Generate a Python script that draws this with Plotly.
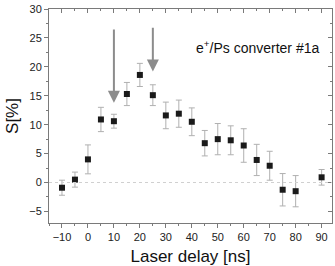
import plotly.graph_objects as go

# Data
delay_ns = [-10, -5, 0, 5, 10, 15, 20, 25, 30, 35, 40, 45, 50, 55, 60, 65, 70, 75, 80, 90]
s_percent = [-0.9, 0.5, 4.0, 10.9, 10.6, 15.3, 18.6, 15.1, 11.6, 11.9, 10.5, 6.8, 7.5, 7.3, 6.4, 3.9, 2.9, -1.25, -1.5, 0.9]
s_err = [1.3, 1.3, 2.5, 2.1, 1.2, 2.0, 2.0, 1.8, 2.3, 2.35, 2.4, 2.2, 2.7, 2.5, 2.9, 2.7, 2.5, 2.8, 2.7, 1.35]

arrow_x = [10, 25]
arrow_tip = [13.8, 19.2]
arrow_tail = [26.7, 27.0]

label_text = "e<sup>+</sup>/Ps converter #1a"
label_pos = (65.3, 23.4)

x_range = [-15, 94]
y_range = [-7, 30]

axis_col = "#7a7a7a"
font_fam = "Liberation Sans, Arial, sans-serif"

fig = go.Figure()
fig.add_trace(go.Scatter(
    x=delay_ns, y=s_percent, mode="markers",
    marker=dict(symbol="square", size=6, color="#1a1a1a"),
    error_y=dict(type="data", array=s_err, visible=True, color="#b0b0b0", thickness=1, width=3),
    showlegend=False,
))
# invisible trace to activate the mirrored axes
fig.add_trace(go.Scatter(x=[x_range[0]], y=[y_range[0]], xaxis="x2", yaxis="y2",
                         mode="markers", marker=dict(opacity=0), showlegend=False, hoverinfo="skip"))

# zero line
fig.add_shape(type="line", xref="paper", x0=0, x1=1, yref="y", y0=0, y1=0,
              line=dict(color="#d0d0d0", width=1, dash="dot"))

for xa, tip, tail in zip(arrow_x, arrow_tip, arrow_tail):
    fig.add_annotation(x=xa, y=tip, ax=xa, ay=tail, xref="x", yref="y", axref="x", ayref="y",
                       showarrow=True, arrowhead=2, arrowsize=1.2, arrowwidth=2, arrowcolor="#8c8c8c",
                       text="")

fig.add_annotation(x=label_pos[0], y=label_pos[1], xref="x", yref="y", text=label_text,
                   showarrow=False, font=dict(size=14, color="#111111", family=font_fam))

fig.update_layout(
    width=335, height=266,
    margin=dict(l=49, r=3, t=5, b=43),
    paper_bgcolor="white", plot_bgcolor="white",
    font=dict(family=font_fam, color="#222222"),
    hovermode=False,
    xaxis=dict(range=x_range, showgrid=False, zeroline=False, showline=True, linecolor=axis_col, linewidth=1,
               ticks="outside", ticklen=4, tickcolor=axis_col, dtick=10, tick0=0,
               tickfont=dict(size=11, color="#222222"), ticklabeloverflow="allow",
               minor=dict(ticks="outside", ticklen=2, dtick=5, tick0=0, tickcolor=axis_col),
               title=dict(text="Laser delay [ns]", font=dict(size=17, color="#111111"), standoff=8)),
    yaxis=dict(range=y_range, showgrid=False, zeroline=False, showline=True, linecolor=axis_col, linewidth=1,
               ticks="outside", ticklen=4, tickcolor=axis_col, dtick=5, tick0=0,
               tickfont=dict(size=11, color="#222222"), ticklabeloverflow="allow",
               minor=dict(ticks="outside", ticklen=2, dtick=2.5, tick0=0, tickcolor=axis_col),
               title=dict(text="S[%]", font=dict(size=17, color="#111111"), standoff=6)),
    xaxis2=dict(range=x_range, overlaying="x", side="top", showgrid=False, zeroline=False, showline=True,
                linecolor=axis_col, ticks="inside", ticklen=4, tickcolor=axis_col, dtick=10, tick0=0,
                showticklabels=False,
                minor=dict(ticks="inside", ticklen=2, dtick=5, tick0=0, tickcolor=axis_col)),
    yaxis2=dict(range=y_range, overlaying="y", side="right", showgrid=False, zeroline=False, showline=True,
                linecolor=axis_col, ticks="inside", ticklen=4, tickcolor=axis_col, dtick=5, tick0=0,
                showticklabels=False,
                minor=dict(ticks="inside", ticklen=2, dtick=2.5, tick0=0, tickcolor=axis_col)),
)

fig.write_html("out.html", config={"displayModeBar": False},
               post_script="document.body.style.margin='0';")
